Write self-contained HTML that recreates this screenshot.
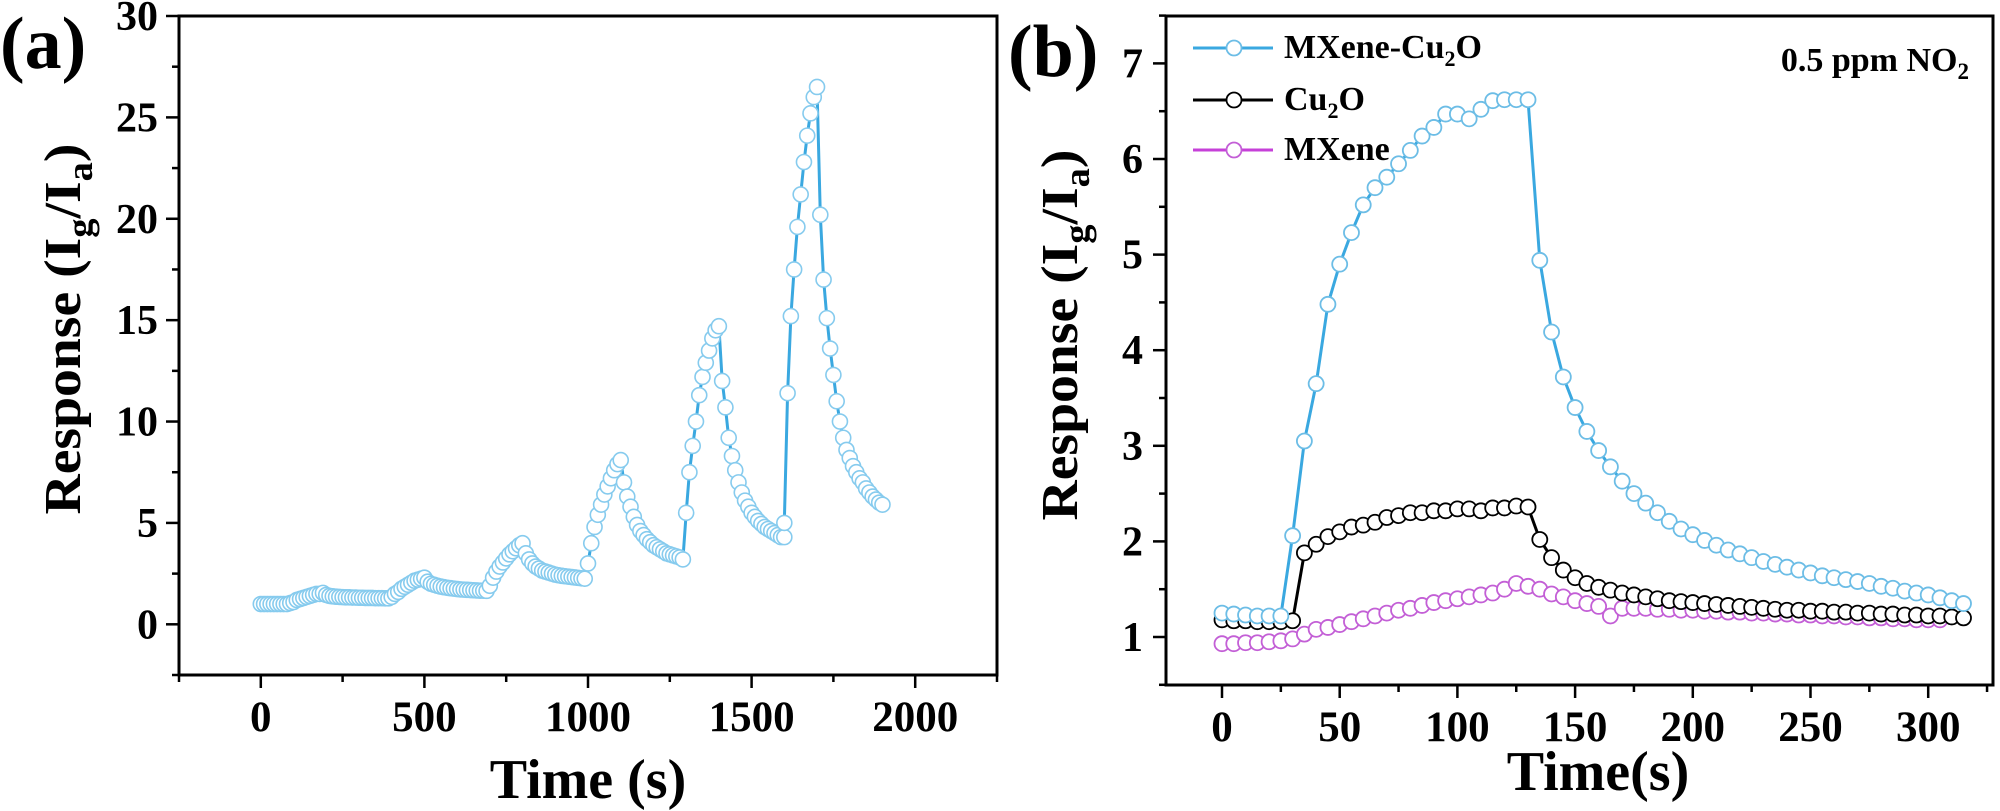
<!DOCTYPE html>
<html><head><meta charset="utf-8">
<style>
html,body{margin:0;padding:0;background:#fff;}
svg{display:block;}
svg text{font-family:"Liberation Serif","Times New Roman",serif !important;font-weight:bold;fill:#000;}
</style></head>
<body>
<svg id="fig" width="2000" height="811" viewBox="0 0 2000 811" xmlns="http://www.w3.org/2000/svg" font-family="Liberation Serif, serif" font-weight="bold">
  <g id="panelA"></g>
  <g id="panelB"></g>
</svg>
<script>
// ---------- Panel (a) data ----------
const aTimes = [0,10,20,30,40,50,60,70,80,90,100,110,120,130,140,150,160,170,180,190,200,210,220,230,240,250,260,270,280,290,300,310,320,330,340,350,360,370,380,390,400,410,420,430,440,450,460,470,480,490,500,510,520,530,540,550,560,570,580,590,600,610,620,630,640,650,660,670,680,690,700,710,720,730,740,750,760,770,780,790,800,810,820,830,840,850,860,870,880,890,900,910,920,930,940,950,960,970,980,990,1000,1010,1020,1030,1040,1050,1060,1070,1080,1090,1100,1110,1120,1130,1140,1150,1160,1170,1180,1190,1200,1210,1220,1230,1240,1250,1260,1270,1280,1290,1300,1310,1320,1330,1340,1350,1360,1370,1380,1390,1400,1410,1420,1430,1440,1450,1460,1470,1480,1490,1500,1510,1520,1530,1540,1550,1560,1570,1580,1590,1600,1600,1610,1620,1630,1640,1650,1660,1670,1680,1690,1700,1710,1720,1730,1740,1750,1760,1770,1780,1790,1800,1810,1820,1830,1840,1850,1860,1870,1880,1890,1900];
const aResponse = [1.0,1.0,1.0,1.0,1.0,1.0,1.0,1.0,1.0,1.05,1.1,1.2,1.25,1.3,1.35,1.4,1.45,1.5,1.5,1.55,1.45,1.4,1.38,1.36,1.35,1.34,1.33,1.33,1.32,1.32,1.31,1.31,1.3,1.3,1.3,1.29,1.29,1.29,1.28,1.28,1.35,1.5,1.6,1.75,1.85,1.95,2.05,2.15,2.2,2.25,2.3,2.1,2.0,1.95,1.9,1.86,1.83,1.8,1.78,1.76,1.74,1.72,1.71,1.7,1.69,1.68,1.67,1.66,1.66,1.65,1.9,2.3,2.6,2.85,3.05,3.25,3.45,3.6,3.75,3.9,4.0,3.5,3.2,3.0,2.85,2.75,2.65,2.6,2.55,2.5,2.45,2.42,2.39,2.37,2.35,2.33,2.31,2.29,2.27,2.25,3.0,4.0,4.8,5.4,5.9,6.4,6.8,7.2,7.6,7.9,8.1,7.0,6.3,5.8,5.3,4.9,4.6,4.4,4.2,4.05,3.9,3.8,3.7,3.6,3.5,3.45,3.4,3.35,3.3,3.2,5.5,7.5,8.8,10.0,11.3,12.2,12.9,13.5,14.1,14.5,14.7,12.0,10.7,9.2,8.3,7.6,7.0,6.5,6.1,5.8,5.5,5.3,5.1,4.95,4.8,4.7,4.6,4.5,4.4,4.3,4.3,5.0,11.4,15.2,17.5,19.6,21.2,22.8,24.1,25.2,26.0,26.5,20.2,17.0,15.1,13.6,12.3,11.0,10.0,9.2,8.6,8.2,7.8,7.5,7.2,7.0,6.7,6.5,6.3,6.15,6.0,5.9];
const aXTicks = [0,500,1000,1500,2000];
const aXTickLabels = ["0","500","1000","1500","2000"];
const aYTicks = [0,5,10,15,20,25,30];
const aYTickLabels = ["0","5","10","15","20","25","30"];

// ---------- Panel (b) data ----------
const bTimesHybrid = [0,5,10,15,20,25,30,35,40,45,50,55,60,65,70,75,80,85,90,95,100,105,110,115,120,125,130,135,140,145,150,155,160,165,170,175,180,185,190,195,200,205,210,215,220,225,230,235,240,245,250,255,260,265,270,275,280,285,290,295,300,305,310,315];
const bHybrid = [1.25,1.24,1.23,1.22,1.22,1.22,2.06,3.05,3.65,4.48,4.9,5.23,5.52,5.7,5.81,5.95,6.09,6.24,6.33,6.47,6.47,6.42,6.52,6.61,6.62,6.62,6.62,4.94,4.19,3.72,3.4,3.15,2.95,2.78,2.63,2.5,2.4,2.3,2.21,2.13,2.07,2.01,1.96,1.91,1.87,1.83,1.79,1.76,1.73,1.7,1.67,1.64,1.62,1.6,1.58,1.56,1.53,1.51,1.48,1.46,1.44,1.41,1.38,1.35];
const bTimesCu2O = [0,5,10,15,20,25,30,35,40,45,50,55,60,65,70,75,80,85,90,95,100,105,110,115,120,125,130,135,140,145,150,155,160,165,170,175,180,185,190,195,200,205,210,215,220,225,230,235,240,245,250,255,260,265,270,275,280,285,290,295,300,305,310,315];
const bCu2O = [1.18,1.17,1.17,1.16,1.16,1.16,1.17,1.88,1.97,2.05,2.1,2.15,2.17,2.2,2.25,2.27,2.3,2.3,2.32,2.32,2.34,2.34,2.32,2.35,2.35,2.37,2.36,2.02,1.83,1.7,1.62,1.56,1.52,1.49,1.46,1.44,1.42,1.4,1.38,1.37,1.36,1.35,1.34,1.33,1.32,1.31,1.3,1.29,1.28,1.28,1.27,1.27,1.26,1.26,1.25,1.25,1.24,1.24,1.23,1.23,1.22,1.22,1.21,1.2];
const bTimesMXene = [0,5,10,15,20,25,30,35,40,45,50,55,60,65,70,75,80,85,90,95,100,105,110,115,120,125,130,135,140,145,150,155,160,165,170,175,180,185,190,195,200,205,210,215,220,225,230,235,240,245,250,255,260,265,270,275,280,285,290,295,300,305];
const bMXene = [0.93,0.93,0.94,0.94,0.95,0.96,0.98,1.03,1.08,1.1,1.13,1.16,1.19,1.22,1.25,1.28,1.3,1.33,1.36,1.38,1.4,1.42,1.44,1.46,1.5,1.56,1.53,1.5,1.45,1.42,1.38,1.35,1.32,1.22,1.3,1.3,1.3,1.29,1.29,1.28,1.28,1.27,1.27,1.26,1.26,1.25,1.25,1.24,1.24,1.23,1.23,1.22,1.22,1.21,1.21,1.2,1.2,1.19,1.19,1.18,1.18,1.18];
const bXTicks = [0,50,100,150,200,250,300];
const bXTickLabels = ["0","50","100","150","200","250","300"];
const bYTicks = [1,2,3,4,5,6,7];
const bYTickLabels = ["1","2","3","4","5","6","7"];

const NS = "http://www.w3.org/2000/svg";
const FONT = "Liberation Serif, Times New Roman, serif";
function mk(tag, attrs, parent){
  const e = document.createElementNS(NS, tag);
  for (const k in attrs) e.setAttribute(k, attrs[k]);
  if (tag === 'text') { e.setAttribute('font-family', FONT); e.setAttribute('font-weight','bold'); }
  parent.appendChild(e);
  return e;
}

// ---------- Panel (a) ----------
(function(){
  const g = document.getElementById('panelA');
  const L=179, R=997, T=16, B=675;
  const xMin=-250, xMax=2250, yMin=-2.5, yMax=30;
  const xs = v => L + (v - xMin) / (xMax - xMin) * (R - L);
  const ys = v => B - (v - yMin) / (yMax - yMin) * (B - T);

  const frame = mk('rect',{x:L,y:T,width:R-L,height:B-T,fill:'none',stroke:'#000','stroke-width':3},g);
  
  

  for (let v=-250; v<=2250; v+=250){
    const major = aXTicks.indexOf(v) >= 0;
    const t = mk('line',{x1:xs(v),x2:xs(v),y1:B,y2:B+(major?13:7),stroke:'#000','stroke-width':2.5},g);
    
    
  }
  aXTicks.forEach((v,i)=>{
    const t = mk('text',{x:xs(v),y:731,'text-anchor':'middle','font-size':43},g);
    t.textContent = aXTickLabels[i];
    
    
  });
  for (let v=-2.5; v<=30; v+=2.5){
    const major = aYTicks.indexOf(v) >= 0;
    const t = mk('line',{x1:L-(major?13:7),x2:L,y1:ys(v),y2:ys(v),stroke:'#000','stroke-width':2.5},g);
    
    
  }
  aYTicks.forEach((v,i)=>{
    const t = mk('text',{x:158,y:ys(v)+14,'text-anchor':'end','font-size':42},g);
    t.textContent = aYTickLabels[i];
    
    
  });

  const xt = mk('text',{x:588,y:798,'text-anchor':'middle','font-size':56},g);
  xt.textContent = 'Time (s)';
  
  

  const yt = mk('text',{x:0,y:0,'text-anchor':'middle','font-size':52,transform:'translate(80,329) rotate(-90)',textLength:371,lengthAdjust:'spacingAndGlyphs'},g);
  yt.innerHTML = 'Response (I<tspan font-size="36" dy="12">g</tspan><tspan dy="-12">/I</tspan><tspan font-size="36" dy="12">a</tspan><tspan dy="-12">)</tspan>';
  
  

  const lab = mk('text',{x:0,y:68,'font-size':74},g);
  lab.textContent = '(a)';
  
  

  const pts = aTimes.map((t,i)=>xs(t).toFixed(1)+','+ys(aResponse[i]).toFixed(1)).join(' ');
  const line = mk('polyline',{points:pts,fill:'none',stroke:'#3aa8e0','stroke-width':3},g);
  
  
  aTimes.forEach((t,i)=>{
    const c = mk('circle',{cx:xs(t),cy:ys(aResponse[i]),r:7.5,fill:'#fff',stroke:'#86cbee','stroke-width':1.6},g);
    
    
  });
})();

// ---------- Panel (b) ----------
(function(){
  const g = document.getElementById('panelB');
  const L=1166, R=1993, T=16, B=685;
  const x0=1222, xPer=2.354;
  const y1=637, yPer=95.6;
  const xs = v => x0 + v * xPer;
  const ys = v => y1 - (v - 1) * yPer;

  const frame = mk('rect',{x:L,y:T,width:R-L,height:B-T,fill:'none',stroke:'#000','stroke-width':3},g);
  
  

  for (let v=-25; v<=325; v+=25){
    if (xs(v) < L-1 || xs(v) > R+1) continue;
    const major = bXTicks.indexOf(v) >= 0;
    const t = mk('line',{x1:xs(v),x2:xs(v),y1:B,y2:B+(major?13:7),stroke:'#000','stroke-width':2.5},g);
    
    
  }
  bXTicks.forEach((v,i)=>{
    const t = mk('text',{x:xs(v),y:741,'text-anchor':'middle','font-size':43},g);
    t.textContent = bXTickLabels[i];
    
    
  });
  for (let v=0.5; v<=7.5; v+=0.5){
    if (ys(v) > B+1 || ys(v) < T-1) continue;
    const major = bYTicks.indexOf(v) >= 0;
    const t = mk('line',{x1:L-(major?13:7),x2:L,y1:ys(v),y2:ys(v),stroke:'#000','stroke-width':2.5},g);
    
    
  }
  bYTicks.forEach((v,i)=>{
    const t = mk('text',{x:1143,y:ys(v)+14,'text-anchor':'end','font-size':42},g);
    t.textContent = bYTickLabels[i];
    
    
  });

  const xt = mk('text',{x:1598,y:790,'text-anchor':'middle','font-size':56},g);
  xt.textContent = 'Time(s)';
  
  

  const yt = mk('text',{x:0,y:0,'text-anchor':'middle','font-size':52,transform:'translate(1077,335) rotate(-90)',textLength:371,lengthAdjust:'spacingAndGlyphs'},g);
  yt.innerHTML = 'Response (I<tspan font-size="36" dy="12">g</tspan><tspan dy="-12">/I</tspan><tspan font-size="36" dy="12">a</tspan><tspan dy="-12">)</tspan>';
  
  

  const lab = mk('text',{x:1008,y:76,'font-size':74},g);
  lab.textContent = '(b)';
  
  

  const note = mk('text',{x:1969,y:71,'text-anchor':'end','font-size':34},g);
  note.innerHTML = '0.5 ppm NO<tspan font-size="23" dy="8">2</tspan>';
  
  

  function series(times, vals, lineColor, markColor, name){
    const pts = times.map((t,i)=>xs(t).toFixed(1)+','+ys(vals[i]).toFixed(1)).join(' ');
    const pl = mk('polyline',{points:pts,fill:'none',stroke:lineColor,'stroke-width':3},g);
    
    
    times.forEach((t,i)=>{
      const c = mk('circle',{cx:xs(t),cy:ys(vals[i]),r:7.5,fill:'#fff',stroke:markColor,'stroke-width':1.8},g);
      
      
    });
  }
  series(bTimesMXene, bMXene, '#c640d8', '#c35fd6', 'mxene');
  series(bTimesCu2O, bCu2O, '#000', '#000', 'cu2o');
  series(bTimesHybrid, bHybrid, '#3aa8e0', '#6cbde6', 'mxene-cu2o');

  const leg = [
    {y:48, line:'#3aa8e0', mark:'#6cbde6', label:'MXene-Cu<tspan font-size="22" dy="8">2</tspan><tspan dy="-8">O</tspan>', name:'legend-mxene-cu2o'},
    {y:100, line:'#000', mark:'#000', label:'Cu<tspan font-size="22" dy="8">2</tspan><tspan dy="-8">O</tspan>', name:'legend-cu2o'},
    {y:150, line:'#c640d8', mark:'#c35fd6', label:'MXene', name:'legend-mxene'}
  ];
  leg.forEach(e=>{
    const lg = mk('g',{},g);
    
    
    mk('line',{x1:1193,x2:1273,y1:e.y,y2:e.y,stroke:e.line,'stroke-width':3},lg);
    mk('circle',{cx:1234,cy:e.y,r:7.5,fill:'#fff',stroke:e.mark,'stroke-width':1.8},lg);
    const t = mk('text',{x:1284,y:e.y+10,'font-size':34},lg);
    t.innerHTML = e.label;
  });
})();
</script>
</body></html>
